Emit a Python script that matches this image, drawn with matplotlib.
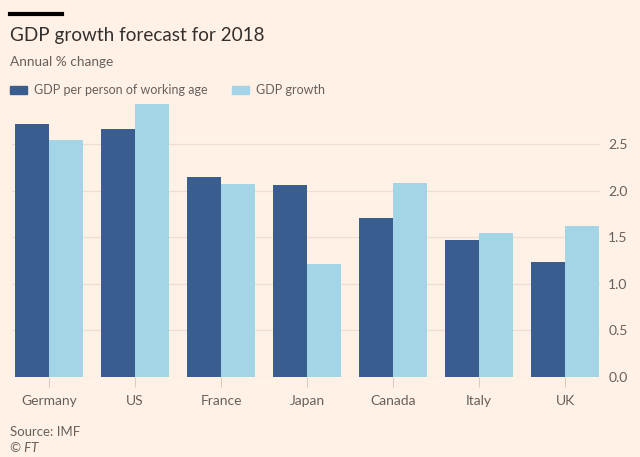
import matplotlib.pyplot as plt
import numpy as np

countries = ["Germany", "US", "France", "Japan", "Canada", "Italy", "UK"]
gdp_per_worker = [2.71, 2.66, 2.15, 2.06, 1.71, 1.47, 1.23]
gdp_growth = [2.54, 2.93, 2.07, 1.21, 2.08, 1.54, 1.62]
yticks = [0.0, 0.5, 1.0, 1.5, 2.0, 2.5]

bg = "#fff1e5"
dark = "#3a5d8f"
light = "#a3d5e7"
grey = "#66605c"

plt.rcParams['font.family'] = ['Lato', 'DejaVu Sans']

fig = plt.figure(figsize=(6.4, 4.57), dpi=100, facecolor=bg)
ax = fig.add_axes([0.019, 0.175, 0.9185, 0.602], facecolor=bg)

x = np.arange(len(countries))
w = 0.395
ax.bar(x - w / 2, gdp_per_worker, width=w, color=dark, zorder=3)
ax.bar(x + w / 2, gdp_growth, width=w, color=light, zorder=3)

ax.set_xlim(-0.43, 6.407)
ax.set_ylim(0, 2.95)
ax.yaxis.tick_right()
ax.set_yticks(yticks)
ax.set_yticklabels([f"{t:.1f}" for t in yticks])
ax.set_xticks(x)
ax.set_xticklabels(countries)
ax.grid(axis="y", color="#ebdfd4", linewidth=0.9, zorder=0)
ax.tick_params(axis="y", length=0, pad=6, labelsize=10, labelcolor=grey)
ax.tick_params(axis="x", length=7, width=0.8, color="#d9cdc2", pad=6,
               labelsize=10, labelcolor=grey)
for s in ax.spines.values():
    s.set_visible(False)

# header
fig.add_artist(plt.Line2D([10 / 640, 62 / 640], [1 - 13.5 / 457] * 2,
                          color="black", linewidth=3, transform=fig.transFigure))
fig.text(10 / 640, 1 - 35 / 457, "GDP growth forecast for 2018", fontsize=13.6,
         color="#33302e", va="center", ha="left")
fig.text(10 / 640, 1 - 62 / 457, "Annual % change", fontsize=9.8,
         color=grey, va="center", ha="left")

# legend
fig.patches.append(plt.Rectangle((10 / 640, 1 - 94 / 457), 17 / 640, 8 / 457,
                                 color=dark, transform=fig.transFigure))
fig.text(34 / 640, 1 - 90 / 457, "GDP per person of working age", fontsize=9.0,
         color=grey, va="center", ha="left")
fig.patches.append(plt.Rectangle((232 / 640, 1 - 94 / 457), 17 / 640, 8 / 457,
                                 color=light, transform=fig.transFigure))
fig.text(256 / 640, 1 - 90 / 457, "GDP growth", fontsize=9.0,
         color=grey, va="center", ha="left")

# footer
fig.text(10 / 640, 1 - 432 / 457, "Source: IMF", fontsize=9.5, color=grey,
         va="center", ha="left")
fig.text(10 / 640, 1 - 448 / 457, "© FT", fontsize=9.5, color=grey,
         style="italic", va="center", ha="left")

fig.savefig("out.png", dpi=100, facecolor=bg)
